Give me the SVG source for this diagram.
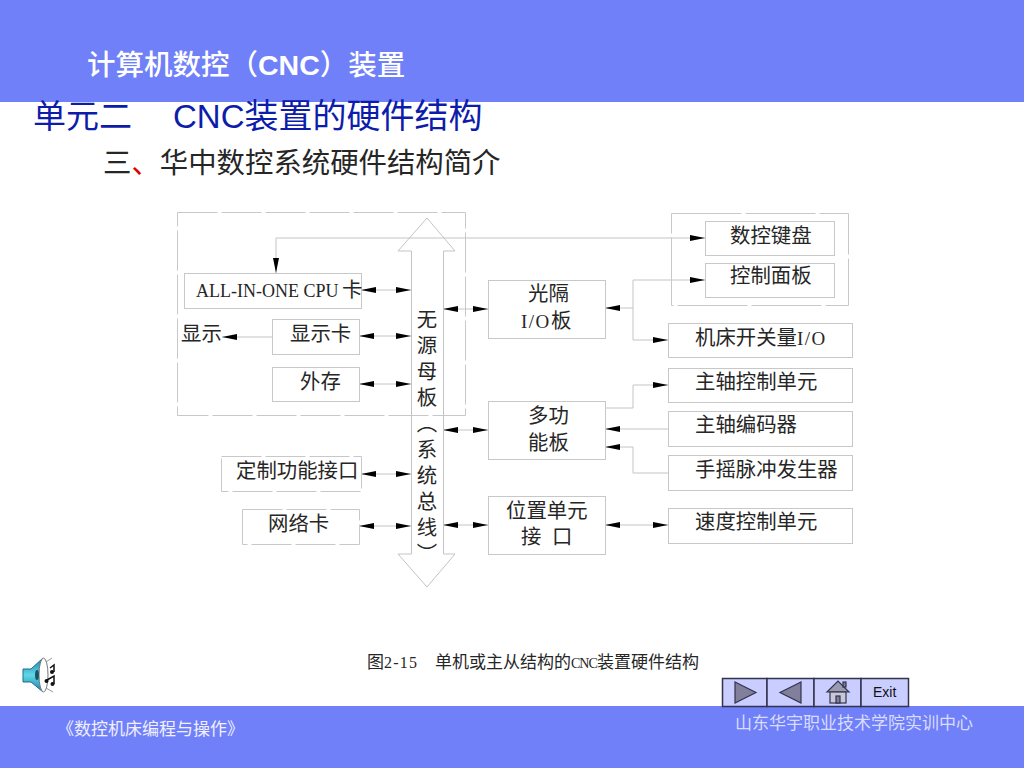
<svg xmlns="http://www.w3.org/2000/svg" width="1024" height="768" viewBox="0 0 1024 768">
<style>
text{font-family:"Noto Sans CJK SC",sans-serif}
.b{fill:#fff;stroke:#c8c8c8;stroke-width:1}
.d{stroke-dasharray:40 4}
.p{fill:none;stroke-dasharray:70 4}
.t{font-family:"Liberation Serif","Noto Sans CJK SC",serif;font-size:20.4px;fill:#262626}
.l{font-size:18px}
.io{font-size:19px}
.c{fill:none;stroke:#c4c4c4;stroke-width:1}
.bar{fill:#7080f8}
.ar{font-family:"Liberation Sans","Noto Sans CJK SC",sans-serif}
.nav{fill:#c9cdff;stroke:#33334d;stroke-width:1.5}
.sym{fill:#80809c;stroke:#33334d;stroke-width:1.2}
</style>
<defs>
<marker id="e" markerUnits="userSpaceOnUse" viewBox="0 0 15 6" refX="15" refY="3" markerWidth="15" markerHeight="6" orient="auto-start-reverse"><path d="M0 0L15 3L0 6Z" fill="#000"/></marker>
<linearGradient id="cone" x1="0" y1="0" x2="0" y2="1"><stop offset="0" stop-color="#1e7fa6"/><stop offset=".5" stop-color="#5fd8e6"/><stop offset="1" stop-color="#1e7fa6"/></linearGradient>
</defs>
<rect width="1024" height="768" fill="#fff"/>
<rect class="bar" width="1024" height="102"/>
<rect class="bar" y="706" width="1024" height="62"/>
<text id="title" class="ar" x="87" y="75" font-size="28.500" font-weight="500" fill="#fff">计算机数控（<tspan font-weight="700">CNC</tspan>）装置</text>
<text id="subtitle" class="ar" x="33" y="128" font-size="33" fill="#0d1cab">单元二<tspan x="173">CNC</tspan><tspan font-size="34">装置的硬件结构</tspan></text>
<text id="heading" x="103" y="173" font-size="28.400" fill="#262626">三<tspan fill="#e00000">、</tspan>华中数控系统硬件结构简介</text>

<g id="group-main"><rect class="b d" x="177.500" y="212.500" width="288" height="203" style="fill:none"/></g>
<g id="group-panel"><rect class="b p" x="671.500" y="213.500" width="177" height="92"/></g>

<g id="connectors">
<path class="c" d="M276 273V238H705" marker-start="url(#e)" marker-end="url(#e)"/>
<path class="c" d="M361 290H411" marker-start="url(#e)" marker-end="url(#e)"/>
<path class="c" d="M359 336H411" marker-start="url(#e)" marker-end="url(#e)"/>
<path class="c" d="M272 337H222" marker-end="url(#e)"/>
<path class="c" d="M359 384H411" marker-start="url(#e)" marker-end="url(#e)"/>
<path class="c" d="M361 474H411" marker-start="url(#e)" marker-end="url(#e)"/>
<path class="c" d="M359 526H411" marker-start="url(#e)" marker-end="url(#e)"/>
<path class="c" d="M443 309H488" marker-start="url(#e)" marker-end="url(#e)"/>
<path class="c" d="M443 430H488" marker-start="url(#e)" marker-end="url(#e)"/>
<path class="c" d="M443 525H488" marker-start="url(#e)" marker-end="url(#e)"/>
<path class="c" d="M633 308H605" marker-end="url(#e)"/>
<path class="c" d="M633 308V280H705" marker-end="url(#e)"/>
<path class="c" d="M633 308V340H668" marker-end="url(#e)"/>
<path class="c" d="M605 408H633V385H668" marker-end="url(#e)"/>
<path class="c" d="M668 429H605" marker-end="url(#e)"/>
<path class="c" d="M668 473H633V447H605" marker-end="url(#e)"/>
<path class="c" d="M605 525H668" marker-start="url(#e)" marker-end="url(#e)"/>
</g>

<g id="bus">
<path class="c" d="M411.500 251H398L427 218L455 251H443.500V554H455L427 587L398 554H411.500Z"/>
<text x="427" y="309" font-size="20.400" fill="#262626" style="writing-mode:vertical-rl;letter-spacing:5.6px">无源母板（系统总线）</text>
</g>

<g id="cpu"><rect class="b" x="184.500" y="273.500" width="177" height="35"/><text class="t" x="196" y="297"><tspan class="l">ALL-IN-ONE CPU</tspan><tspan x="342">卡</tspan></text></g>
<g id="display-label"><text class="t" x="181" y="341">显示</text></g>
<g id="display-card"><rect class="b" x="272.500" y="319.500" width="87" height="35"/><text class="t" x="290" y="341">显示卡</text></g>
<g id="storage"><rect class="b" x="272.500" y="367.500" width="87" height="34"/><text class="t" x="300" y="389">外存</text></g>
<g id="custom"><rect class="b d" x="221.500" y="456.500" width="140" height="35"/><text class="t" x="236" y="478">定制功能接口</text></g>
<g id="network"><rect class="b d" x="242.500" y="509.500" width="117" height="35"/><text class="t" x="268" y="531">网络卡</text></g>
<g id="io"><rect class="b" x="488.500" y="280.500" width="117" height="58"/><text class="t" x="528" y="301">光隔</text><text class="t" x="521" y="328"><tspan class="io" letter-spacing="1.500">I/O</tspan><tspan x="551">板</tspan></text></g>
<g id="multi"><rect class="b" x="488.500" y="401.500" width="117" height="58"/><text class="t" x="528" y="423">多功</text><text class="t" x="528" y="450">能板</text></g>
<g id="position"><rect class="b" x="488.500" y="496.500" width="117" height="58"/><text class="t" x="506" y="518">位置单元</text><text class="t" x="521" y="544">接<tspan x="552">口</tspan></text></g>
<g id="keyboard"><rect class="b" x="705.500" y="221.500" width="129" height="34"/><text class="t" x="730" y="243">数控键盘</text></g>
<g id="control-panel"><rect class="b" x="705.500" y="263.500" width="129" height="34"/><text class="t" x="730" y="283">控制面板</text></g>
<g id="machine-io"><rect class="b" x="668.500" y="323.500" width="184" height="34"/><text class="t" x="695" y="345">机床开关量<tspan class="io" letter-spacing="1.500">I/O</tspan></text></g>
<g id="spindle-control"><rect class="b" x="668.500" y="368.500" width="184" height="34"/><text class="t" x="695" y="389">主轴控制单元</text></g>
<g id="spindle-encoder"><rect class="b" x="668.500" y="411.500" width="184" height="35"/><text class="t" x="695" y="432">主轴编码器</text></g>
<g id="handwheel"><rect class="b" x="668.500" y="455.500" width="184" height="35"/><text class="t" x="695" y="477">手摇脉冲发生器</text></g>
<g id="speed-control"><rect class="b" x="668.500" y="508.500" width="184" height="35"/><text class="t" x="695" y="529">速度控制单元</text></g>

<text id="caption" class="t" x="367" y="668" style="font-size:17px">图<tspan style="font-size:16px" letter-spacing="1.200">2-15</tspan><tspan x="435">单机或主从结构的</tspan><tspan x="571" style="font-size:14px" letter-spacing="-1">CNC</tspan><tspan x="597">装置硬件结构</tspan></text>

<g id="speaker">
<path d="M23 669H31L43 658V692L31 682H23Z" fill="url(#cone)" stroke="#1b6f92"/>
<ellipse cx="43.500" cy="675" rx="4.500" ry="17" fill="#fff" stroke="#777"/>
<ellipse cx="37" cy="675" rx="2" ry="5" fill="#17566a"/>
<path d="M46 662L52 658M46 688L53 692" stroke="#999" fill="none"/>
<path d="M50 668L54 665V672M47 680L54 676V684" stroke="#111" stroke-width="1.500" fill="none"/>
<circle cx="52" cy="672" r="2" fill="#111"/>
<circle cx="46.500" cy="681" r="2" fill="#111"/>
<circle cx="52.500" cy="684" r="2" fill="#111"/>
</g>

<g id="nav">
<rect class="nav" x="722.500" y="678.500" width="44.500" height="28"/>
<rect class="nav" x="767" y="678.500" width="47" height="28"/>
<rect class="nav" x="814" y="678.500" width="47" height="28"/>
<rect class="nav" x="861" y="678.500" width="47.500" height="28"/>
<path class="sym" d="M735 682L756 692.500L735 703Z"/>
<path class="sym" d="M801 682L780 692.500L801 703Z"/>
<path class="sym" d="M827 692L838 681L849 692Z" style="fill:#9a9ab0"/>
<rect class="sym" x="830" y="692" width="16" height="11" style="fill:#c8c8d8"/>
<rect class="sym" x="836" y="696" width="4" height="7" style="fill:#80809c"/>
<rect class="sym" x="843" y="682" width="3" height="5"/>
<text class="ar" x="873" y="697" font-size="14" fill="#111">Exit</text>
</g>

<text id="footer-left" x="57" y="735" font-size="17" fill="#f0f0ff">《数控机床编程与操作》</text>
<text id="footer-right" x="735" y="729" font-size="17" fill="#d8dcff">山东华宇职业技术学院实训中心</text>
</svg>
